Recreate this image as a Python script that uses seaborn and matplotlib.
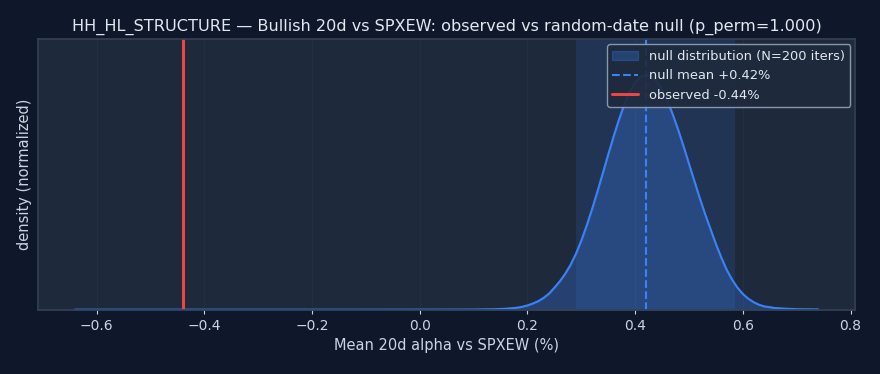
import matplotlib
matplotlib.use("Agg")
import matplotlib.pyplot as plt
import seaborn as sns
import pandas as pd

# null-distribution density curve (normalized to peak = 1)
grid_x = [-0.64, -0.40, -0.20, 0.00, 0.10, 0.14, 0.16, 0.18, 0.19, 0.20, 0.21, 0.22,
          0.23, 0.24, 0.25, 0.26, 0.27, 0.28, 0.29, 0.30, 0.31, 0.32, 0.33, 0.34,
          0.35, 0.36, 0.37, 0.38, 0.39, 0.40, 0.41, 0.42, 0.43, 0.44, 0.45, 0.46,
          0.47, 0.48, 0.49, 0.50, 0.51, 0.52, 0.53, 0.54, 0.55, 0.56, 0.57, 0.58,
          0.59, 0.60, 0.61, 0.62, 0.63, 0.64, 0.66, 0.68, 0.70, 0.74]
density = [0.000, 0.000, 0.000, 0.0002, 0.0005, 0.002, 0.004, 0.008, 0.012, 0.018, 0.026, 0.036,
           0.050, 0.068, 0.093, 0.120, 0.152, 0.190, 0.237, 0.293, 0.357, 0.427, 0.502, 0.580,
           0.659, 0.736, 0.808, 0.873, 0.926, 0.966, 0.991, 1.000, 0.993, 0.971, 0.935, 0.888,
           0.830, 0.765, 0.695, 0.621, 0.548, 0.475, 0.407, 0.343, 0.280, 0.222, 0.170, 0.128,
           0.094, 0.067, 0.047, 0.032, 0.021, 0.014, 0.007, 0.004, 0.002, 0.001]

null_mean = 0.42
observed = -0.44
band_lo, band_hi = 0.29, 0.585
n_iters = 200

BG = "#0f172a"
AX_BG = "#1e293b"
BLUE = "#3b82f6"
RED = "#ef4444"
TXT = "#e2e8f0"
LBL = "#cbd5e1"

sns.set_theme(style="dark")
plt.rcParams.update({
    "figure.facecolor": BG,
    "axes.facecolor": AX_BG,
    "axes.edgecolor": "#334155",
    "axes.labelcolor": LBL,
    "xtick.color": LBL,
    "ytick.color": LBL,
    "text.color": TXT,
})
plt.rcParams["font.family"] = ["DejaVu Sans"]

df = pd.DataFrame({"x": grid_x, "density": density})

fig, ax = plt.subplots(figsize=(8.8, 3.74), dpi=100)

ax.axvspan(band_lo, band_hi, color=BLUE, alpha=0.13, lw=0)
ax.fill_between(df["x"], df["density"], color=BLUE, alpha=0.28,
                edgecolor=BLUE, label=f"null distribution (N={n_iters} iters)")
sns.lineplot(data=df, x="x", y="density", ax=ax, color=BLUE, lw=1.5)
ax.axvline(null_mean, color=BLUE, ls="--", lw=1.5, label=f"null mean {null_mean:+.2f}%")
ax.axvline(observed, color=RED, lw=2.2, label=f"observed {observed:+.2f}%")

ax.set_ylim(0, 1.15)
ax.set_yticks([])
ax.grid(axis="x", color="#334155", alpha=0.3, lw=0.6)
for s in ax.spines.values():
    s.set_color("#334155")
ax.tick_params(axis="x", length=3, width=0.8, colors=LBL, labelsize=10, bottom=True)

ax.set_xlabel("Mean 20d alpha vs SPXEW (%)", fontsize=10.5, color=LBL)
ax.set_ylabel("density (normalized)", fontsize=10.5, color=LBL)
ax.set_title("HH_HL_STRUCTURE \u2014 Bullish 20d vs SPXEW: observed vs random-date null (p_perm=1.000)",
             fontsize=11.6, color=TXT)

leg = ax.legend(loc="upper right", fontsize=9.4, facecolor=AX_BG, edgecolor="#94a3b8",
                framealpha=0.9, labelcolor=TXT, borderaxespad=0.4)

fig.subplots_adjust(left=0.043, right=0.972, top=0.895, bottom=0.172)
fig.savefig("out.png", dpi=100, facecolor=BG)
